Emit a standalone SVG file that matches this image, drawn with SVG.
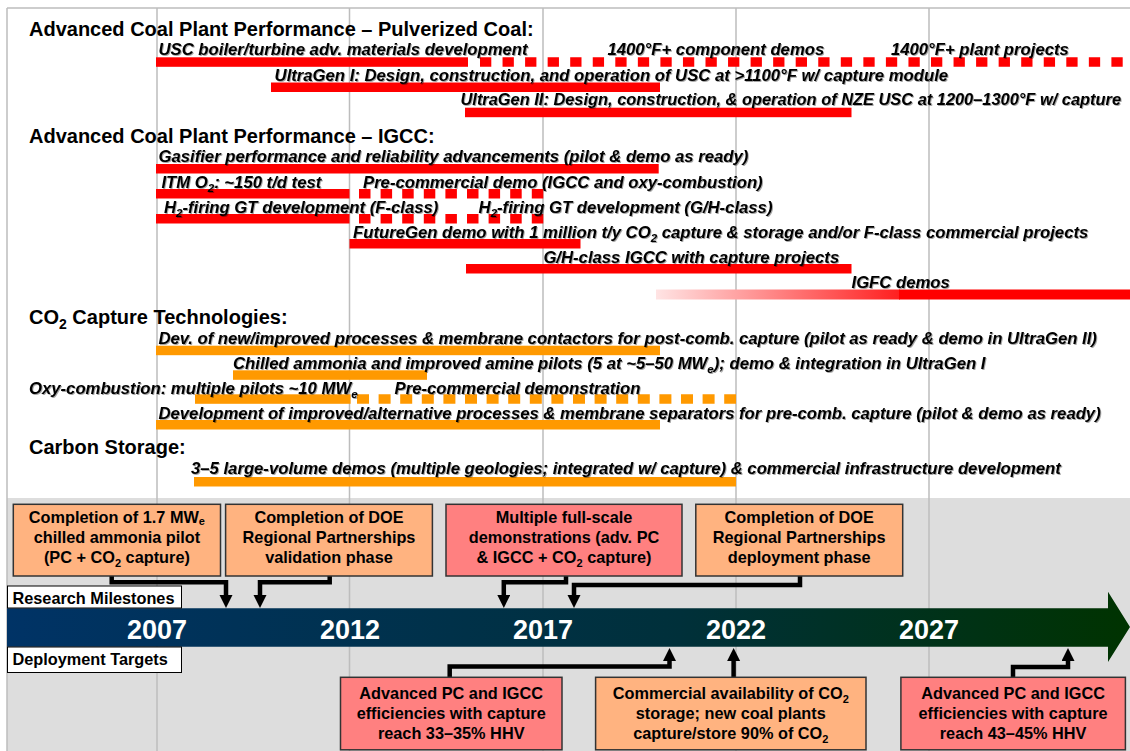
<svg xmlns="http://www.w3.org/2000/svg" width="1130" height="751" viewBox="0 0 1130 751">
<style>
.h{font-family:"Liberation Sans",Arial,sans-serif;font-weight:bold;font-size:20px;fill:#000}
.r{font-family:"Liberation Sans",Arial,sans-serif;font-weight:bold;font-style:italic;font-size:16.7px;fill:#000}
.b{font-family:"Liberation Sans",Arial,sans-serif;font-weight:bold;font-size:16.3px;fill:#000;text-anchor:middle}
.lab{font-family:"Liberation Sans",Arial,sans-serif;font-weight:bold;font-size:16.3px;fill:#000}
.yr{font-family:"Liberation Sans",Arial,sans-serif;font-weight:bold;font-size:27px;fill:#fff;text-anchor:middle}
.red{fill:#FF0000}
.org{fill:#FF9900}
.dr{stroke:#FF0000;stroke-width:9.5;fill:none}
.do{stroke:#FF9900;stroke-width:9.5;fill:none}
.peach{fill:#FFB380;stroke:#333;stroke-width:1.5}
.pink{fill:#FF8080;stroke:#333;stroke-width:1.5}
.grid{stroke:#BDBDBD;stroke-width:1.5}
.con{stroke:#000;stroke-width:4.5;fill:none;marker-end:url(#ah)}
</style>
<defs>
<marker id="ah" markerUnits="userSpaceOnUse" markerWidth="14" markerHeight="14" refX="6" refY="6.5" orient="auto">
<path d="M0,0 L13,6.5 L0,13 Z" fill="#000"/>
</marker>
<linearGradient id="tl" gradientUnits="userSpaceOnUse" x1="7" y1="0" x2="1130" y2="0">
<stop offset="0" stop-color="#003366"/>
<stop offset="0.6" stop-color="#00303A"/>
<stop offset="1" stop-color="#003300"/>
</linearGradient>
<linearGradient id="igfc" gradientUnits="userSpaceOnUse" x1="656" y1="0" x2="899" y2="0">
<stop offset="0" stop-color="#FFE4E4"/>
<stop offset="1" stop-color="#FF2020"/>
</linearGradient>
<filter id="sh" x="-5%" y="-30%" width="110%" height="160%">
<feDropShadow dx="1" dy="1" stdDeviation="0.4" flood-color="#000" flood-opacity="0.35"/>
</filter>
</defs>

<rect x="0" y="0" width="1130" height="751" fill="#fff"/>
<rect x="7" y="498" width="1123" height="253" fill="#DDDDDD"/>
<g id="frame">
<line x1="7" y1="8" x2="1130" y2="8" class="grid"/>
<line x1="7" y1="8" x2="7" y2="751" class="grid"/>
<line x1="157" y1="8" x2="157" y2="751" class="grid"/>
<line x1="349.5" y1="8" x2="349.5" y2="751" class="grid"/>
<line x1="543" y1="8" x2="543" y2="751" class="grid"/>
<line x1="736" y1="8" x2="736" y2="751" class="grid"/>
<line x1="929" y1="8" x2="929" y2="751" class="grid"/>
</g>

<g id="sec-pc">
<text class="h" x="29" y="36">Advanced Coal Plant Performance – Pulverized Coal:</text>
</g>
<g id="row-usc">
<rect class="red" x="156" y="57.3" width="312" height="9.5"/>
<line class="dr" x1="480" y1="62" x2="1130" y2="62" stroke-dasharray="11.3 11.25"/>
<g filter="url(#sh)">
<text class="r" x="158.5" y="55">USC boiler/turbine adv. materials development</text>
<text class="r" x="607.5" y="55">1400°F+ component demos</text>
<text class="r" x="891" y="55">1400°F+ plant projects</text>
</g>
</g>
<g id="row-ultragen1">
<rect class="red" x="271" y="82.5" width="389" height="9.5"/>
<text class="r" x="274.6" y="81" filter="url(#sh)">UltraGen I: Design, construction, and operation of USC at &gt;1100°F w/ capture module</text>
</g>
<g id="row-ultragen2">
<rect class="red" x="465" y="107.7" width="386.5" height="9.5"/>
<text class="r" x="460.5" y="105" style="font-size:16.4px" filter="url(#sh)">UltraGen II: Design, construction, &amp; operation of NZE USC at 1200–1300°F w/ capture</text>
</g>

<g id="sec-igcc">
<text class="h" x="29" y="143">Advanced Coal Plant Performance – IGCC:</text>
</g>
<g id="row-gasifier">
<rect class="red" x="156" y="164" width="502.7" height="9.5"/>
<text class="r" x="158.5" y="162" filter="url(#sh)">Gasifier performance and reliability advancements (pilot &amp; demo as ready)</text>
</g>
<g id="row-itm">
<rect class="red" x="156" y="189" width="193.5" height="9.5"/>
<line class="dr" x1="359" y1="193.75" x2="543.5" y2="193.75" stroke-dasharray="11.5 10.1"/>
<g filter="url(#sh)">
<text class="r" x="161.4" y="188">ITM O<tspan font-size="11.5" dy="4">2</tspan><tspan dy="-4">: ~150 t/d test</tspan></text>
<text class="r" x="363" y="188">Pre-commercial demo (IGCC and oxy-combustion)</text>
</g>
</g>
<g id="row-h2">
<rect class="red" x="156" y="214" width="193.5" height="9.5"/>
<line class="dr" x1="359" y1="218.75" x2="543.5" y2="218.75" stroke-dasharray="11.5 10.1"/>
<g filter="url(#sh)">
<text class="r" x="164" y="213">H<tspan font-size="11.5" dy="4">2</tspan><tspan dy="-4">-firing GT development (F-class)</tspan></text>
<text class="r" x="478.6" y="213">H<tspan font-size="11.5" dy="4">2</tspan><tspan dy="-4">-firing GT development (G/H-class)</tspan></text>
</g>
</g>
<g id="row-futuregen">
<rect class="red" x="349.5" y="239" width="231" height="9.5"/>
<text class="r" x="353" y="237.5" filter="url(#sh)">FutureGen demo with 1 million t/y CO<tspan font-size="11.5" dy="4">2</tspan><tspan dy="-4"> capture &amp; storage and/or F-class commercial projects</tspan></text>
</g>
<g id="row-gh">
<rect class="red" x="466" y="264" width="385.5" height="9.5"/>
<text class="r" x="543.4" y="262.5" filter="url(#sh)">G/H-class IGCC with capture projects</text>
</g>
<g id="row-igfc">
<rect x="656" y="289.5" width="244" height="10" fill="url(#igfc)"/>
<rect class="red" x="899" y="289.5" width="231" height="10"/>
<text class="r" x="851.5" y="287.5" filter="url(#sh)">IGFC demos</text>
</g>

<g id="sec-co2">
<text class="h" x="29" y="324">CO<tspan font-size="14" dy="5">2</tspan><tspan dy="-5"> Capture Technologies:</tspan></text>
</g>
<g id="row-post">
<rect class="org" x="156" y="345.7" width="504" height="9.5"/>
<text class="r" x="158.5" y="343.5" filter="url(#sh)">Dev. of new/improved processes &amp; membrane contactors for post-comb. capture (pilot as ready &amp; demo in UltraGen II)</text>
</g>
<g id="row-chilled">
<rect class="org" x="233" y="370.3" width="194" height="9.5"/>
<text class="r" x="233" y="368.5" filter="url(#sh)">Chilled ammonia and improved amine pilots (5 at ~5–50 MW<tspan font-size="11.5" dy="4">e</tspan><tspan dy="-4">); demo &amp; integration in UltraGen I</tspan></text>
</g>
<g id="row-oxy">
<rect class="org" x="195" y="394.3" width="155.6" height="9.5"/>
<line class="do" x1="357" y1="399" x2="736" y2="399" stroke-dasharray="12 9.6"/>
<g filter="url(#sh)">
<text class="r" x="29" y="393.5">Oxy-combustion: multiple pilots ~10 MW<tspan font-size="11.5" dy="4">e</tspan></text>
<text class="r" x="394.6" y="393.5">Pre-commercial demonstration</text>
</g>
</g>
<g id="row-pre">
<rect class="org" x="156" y="420" width="504" height="9.5"/>
<text class="r" x="158.5" y="418.5" filter="url(#sh)">Development of improved/alternative processes &amp; membrane separators for pre-comb. capture (pilot &amp; demo as ready)</text>
</g>

<g id="sec-storage">
<text class="h" x="29" y="453.5">Carbon Storage:</text>
</g>
<g id="row-storage">
<rect class="org" x="194" y="477" width="542" height="9.5"/>
<text class="r" x="191" y="473.5" filter="url(#sh)">3–5 large-volume demos (multiple geologies; integrated w/ capture) &amp; commercial infrastructure development</text>
</g>

<g id="timeline">
<path d="M7,608.3 H1108 V591.7 L1130,627 L1108,662 V646.7 H7 Z" fill="url(#tl)"/>
<text class="yr" x="157" y="639">2007</text>
<text class="yr" x="350" y="639">2012</text>
<text class="yr" x="543" y="639">2017</text>
<text class="yr" x="736" y="639">2022</text>
<text class="yr" x="929" y="639">2027</text>
</g>
<g id="label-research">
<rect x="7.5" y="586" width="174" height="22" fill="#fff" stroke="#000" stroke-width="1"/>
<text class="lab" x="12.5" y="603.5">Research Milestones</text>
</g>
<g id="label-deploy">
<rect x="7.5" y="647" width="174" height="25.5" fill="#fff" stroke="#000" stroke-width="1"/>
<text class="lab" x="12.5" y="665">Deployment Targets</text>
</g>

<g id="connectors">
<path class="con" d="M111.7,576 V582.3 H226 V601"/>
<path class="con" d="M329.7,576 V582.3 H260 V601"/>
<path class="con" d="M566,576 V582.3 H503.8 V601"/>
<path class="con" d="M800,576 V585 H574 V601"/>
<path class="con" d="M449.7,677.3 V666.5 H669.5 V655"/>
<path class="con" d="M733.6,677.3 V655"/>
<path class="con" d="M1013,677.3 V667 H1068 V655"/>
</g>

<g id="m-pilot">
<rect class="peach" x="13.3" y="504.3" width="207.2" height="71.7"/>
<text class="b" x="116.9" y="523.3">Completion of 1.7 MW<tspan font-size="11" dy="2">e</tspan></text>
<text class="b" x="116.9" y="543.3">chilled ammonia pilot</text>
<text class="b" x="116.9" y="563.3">(PC + CO<tspan font-size="11" dy="4">2</tspan><tspan dy="-4"> capture)</tspan></text>
</g>
<g id="m-validation">
<rect class="peach" x="225.6" y="504.3" width="206.8" height="71.7"/>
<text class="b" x="329" y="523.3">Completion of DOE</text>
<text class="b" x="329" y="543.3">Regional Partnerships</text>
<text class="b" x="329" y="563.3">validation phase</text>
</g>
<g id="m-fullscale">
<rect class="pink" x="446" y="504.3" width="236" height="71.7"/>
<text class="b" x="564" y="523.3">Multiple full-scale</text>
<text class="b" x="564" y="543.3">demonstrations (adv. PC</text>
<text class="b" x="564" y="563.3">&amp; IGCC + CO<tspan font-size="11" dy="4">2</tspan><tspan dy="-4"> capture)</tspan></text>
</g>
<g id="m-deployment">
<rect class="peach" x="695.8" y="504.3" width="206.9" height="71.7"/>
<text class="b" x="799.2" y="523.3">Completion of DOE</text>
<text class="b" x="799.2" y="543.3">Regional Partnerships</text>
<text class="b" x="799.2" y="563.3">deployment phase</text>
</g>
<g id="t-eff1">
<rect class="pink" x="340.5" y="677.3" width="221.5" height="72.5"/>
<text class="b" x="451.2" y="699">Advanced PC and IGCC</text>
<text class="b" x="451.2" y="719">efficiencies with capture</text>
<text class="b" x="451.2" y="738.5">reach 33–35% HHV</text>
</g>
<g id="t-storage">
<rect class="peach" x="595.6" y="677.3" width="270.4" height="72.5"/>
<text class="b" x="730.8" y="699">Commercial availability of CO<tspan font-size="11" dy="4">2</tspan></text>
<text class="b" x="730.8" y="719">storage; new coal plants</text>
<text class="b" x="730.8" y="738.5">capture/store 90% of CO<tspan font-size="11" dy="4">2</tspan></text>
</g>
<g id="t-eff2">
<rect class="pink" x="900.9" y="677.3" width="224.5" height="72.5"/>
<text class="b" x="1013.1" y="699">Advanced PC and IGCC</text>
<text class="b" x="1013.1" y="719">efficiencies with capture</text>
<text class="b" x="1013.1" y="738.5">reach 43–45% HHV</text>
</g>
</svg>
